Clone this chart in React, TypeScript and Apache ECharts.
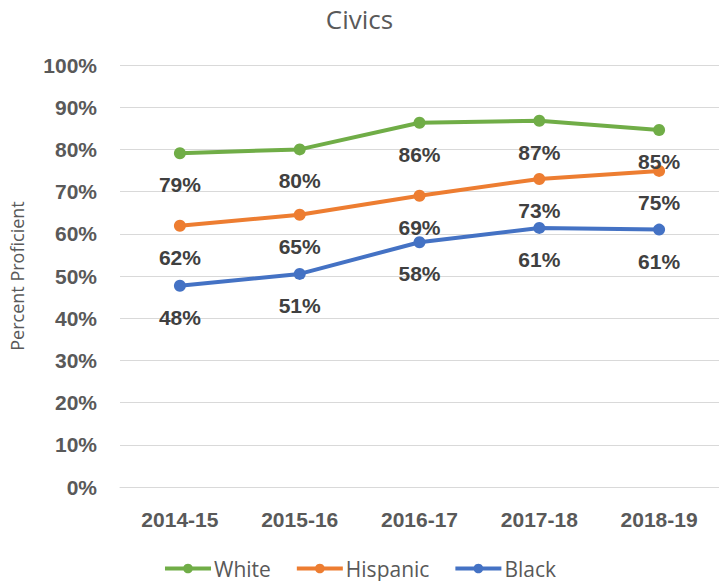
import React, { useEffect, useRef } from "react";
import * as echarts from "echarts";

const categories = ["2014-15", "2015-16", "2016-17", "2017-18", "2018-19"];
const whiteValues = [79.1, 80.0, 86.3, 86.8, 84.6];
const hispanicValues = [61.9, 64.5, 69.0, 73.0, 74.9];
const blackValues = [47.7, 50.5, 58.0, 61.4, 61.0];
const seriesNames = ["White", "Hispanic", "Black"];
const seriesColors = ["#70AD47", "#ED7D31", "#4472C4"];

const numFont = "'Liberation Sans', Arial, sans-serif";
const textFont = "'Open Sans', 'Noto Sans', sans-serif";

export default function App() {
  const ref = useRef<HTMLDivElement>(null);
  useEffect(() => {
    if (!ref.current) return;
    const chart = echarts.init(ref.current, undefined, { renderer: "svg" });
    const allValues = [whiteValues, hispanicValues, blackValues];
    chart.setOption({
      animation: false,
      backgroundColor: "#ffffff",
      title: {
        text: "Civics",
        left: "center",
        top: 1,
        textStyle: { fontFamily: textFont, fontSize: 26, fontWeight: "normal", color: "#595959" },
      },
      legend: {
        data: seriesNames,
        left: "center",
        top: 553,
        itemWidth: 46,
        itemHeight: 12,
        itemGap: 24,
        lineStyle: { width: 4 },
        textStyle: { fontFamily: textFont, fontSize: 21, color: "#595959", padding: [0, 0, 0, -2] },
      },
      grid: { left: 112, top: 65, width: 608, height: 422, containLabel: false },
      xAxis: {
        type: "category",
        data: categories,
        boundaryGap: true,
        axisLine: { show: true, lineStyle: { color: "#d9d9d9", width: 1 } },
        axisTick: { show: false },
        axisLabel: {
          margin: 22,
          fontFamily: numFont,
          fontSize: 21,
          fontWeight: "bold",
          color: "#595959",
        },
      },
      yAxis: {
        type: "value",
        min: 0,
        max: 100,
        interval: 10,
        name: "Percent Proficient",
        nameLocation: "middle",
        nameGap: 94,
        nameTextStyle: { fontFamily: textFont, fontSize: 18, color: "#595959" },
        axisLine: { show: false },
        axisTick: { show: false },
        splitLine: { lineStyle: { color: "#d9d9d9", width: 1 } },
        axisLabel: {
          margin: 23,
          fontFamily: numFont,
          fontSize: 21,
          fontWeight: "bold",
          color: "#595959",
          formatter: (v: number) => `${v}%`,
        },
      },
      series: seriesNames.map((name, i) => ({
        name,
        type: "line",
        data: allValues[i],
        color: seriesColors[i],
        symbol: "circle",
        symbolSize: 12,
        lineStyle: { width: 4, color: seriesColors[i] },
        itemStyle: { color: seriesColors[i] },
        label: {
          show: true,
          position: "bottom",
          distance: 15,
          fontFamily: numFont,
          fontSize: 21,
          fontWeight: "bold",
          color: "#404040",
          formatter: (p: any) => `${Math.round(p.value)}%`,
        },
      })),
    });
    return () => chart.dispose();
  }, []);
  return (
    <div
      ref={ref}
      style={{ position: "fixed", left: 0, top: 0, width: 719, height: 581, background: "#fff" }}
    />
  );
}
